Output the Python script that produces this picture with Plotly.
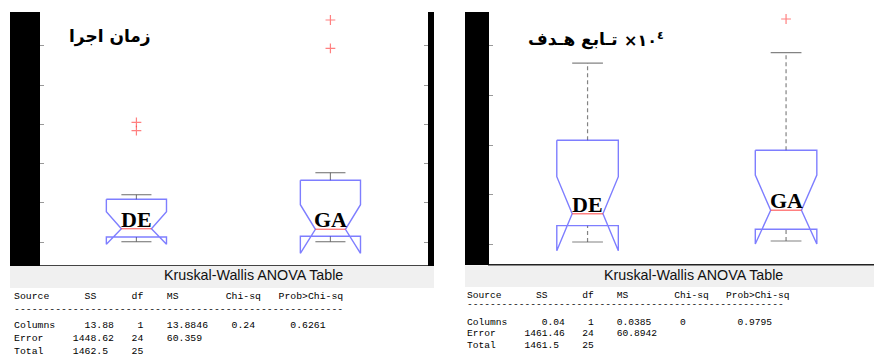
import plotly.graph_objects as go

W, H = 874, 360

# ---------------- data ----------------
groups = ["DE", "GA"]
group_pos = [1, 2]

# left panel: execution time (axis ticks unlabeled in the picture)
time_ticks = [10, 20, 30, 40, 50, 60]
time_whisker_low = [10.15, 10.15]
time_q1 = [11.35, 11.53]
time_notch_low = [9.5, 7.2]
time_median = [13.46, 13.31]
time_notch_high = [17.8, 19.57]
time_q3 = [20.94, 25.78]
time_whisker_high = [22.11, 27.71]
time_outliers = [[40.53, 38.4], [66.56, 59.36]]

# right panel: objective function x10^4
obj_ticks = [1, 2, 3, 4, 5]
obj_whisker_low = [1.046, 1.066]
obj_q1 = [1.375, 1.302]
obj_notch_low = [0.871, 1.006]
obj_median = [1.616, 1.685]
obj_notch_high = [2.362, 2.396]
obj_q3 = [3.095, 2.893]
obj_whisker_high = [4.651, 4.859]
obj_outliers = [[], [5.538]]

# Kruskal-Wallis tables
table_title = "Kruskal-Wallis ANOVA Table"
table_header = ["Source", "SS", "df", "MS", "Chi-sq", "Prob>Chi-sq"]
row_names = ["Columns", "Error", "Total"]
time_ss = ["13.88", "1448.62", "1462.5"]
time_df = ["1", "24", "25"]
time_ms = ["13.8846", "60.359"]
time_chi = ["0.24"]
time_p = ["0.6261"]
obj_ss = ["0.04", "1461.46", "1461.5"]
obj_df = ["1", "24", "25"]
obj_ms = ["0.0385", "60.8942"]
obj_chi = ["0"]
obj_p = ["0.9795"]

title_time = "زمان اجرا"
title_obj_words = "تـابع هـدف"
title_obj_scale = "×١٠<sup>٤</sup>"

# ---------------- styling ----------------
BLUE = "rgba(40,40,255,0.6)"
RED = "rgba(255,60,60,0.65)"
GRAY = "rgba(90,90,90,0.75)"
BW, NW, CW = 0.155, 0.0775, 0.0775


def px_x(p):
    return p / W


def px_y(p):
    return 1 - p / H


fig = go.Figure()


def add_panel(xa, ya, wl, q1, nl, md, nh, q3, wh, outl, dashed):
    for i, g in enumerate(groups):
        c = group_pos[i]
        # whiskers
        for a, b in ((q3[i], wh[i]), (wl[i], q1[i])):
            fig.add_trace(go.Scatter(x=[c, c], y=[a, b], mode="lines",
                                     line=dict(color=GRAY, width=1.2,
                                               dash="4px,3px" if dashed else "solid"),
                                     xaxis=xa, yaxis=ya, hoverinfo="skip"))
        for v in (wh[i], wl[i]):
            fig.add_trace(go.Scatter(x=[c - CW, c + CW], y=[v, v], mode="lines",
                                     line=dict(color=GRAY, width=1.2),
                                     xaxis=xa, yaxis=ya, hoverinfo="skip"))
        # notched box outline
        fig.add_trace(go.Scatter(
            x=[c - BW, c - BW, c - NW, c - BW, c - BW, c + BW, c + BW, c + NW, c + BW, c + BW, c - BW],
            y=[q3[i], nh[i], md[i], nl[i], q1[i], q1[i], nl[i], md[i], nh[i], q3[i], q3[i]],
            mode="lines", line=dict(color=BLUE, width=1.4),
            xaxis=xa, yaxis=ya, hoverinfo="skip"))
        # median
        fig.add_trace(go.Scatter(x=[c - NW, c + NW], y=[md[i], md[i]], mode="lines",
                                 line=dict(color=RED, width=1.4),
                                 xaxis=xa, yaxis=ya, hoverinfo="skip"))
        # outliers
        if outl[i]:
            fig.add_trace(go.Scatter(x=[c] * len(outl[i]), y=outl[i], mode="markers",
                                     marker=dict(symbol="cross-thin", size=7,
                                                 line=dict(color=RED, width=1.2)),
                                     xaxis=xa, yaxis=ya, hoverinfo="skip"))
        # group label
        fig.add_annotation(x=c, y=md[i], xref=xa, yref=ya, text=g,
                           showarrow=False, xanchor="center", yanchor="bottom",
                           yshift=-5,
                           font=dict(family="Liberation Serif", size=22,
                                     color="black", weight="bold"))


add_panel("x", "y", time_whisker_low, time_q1, time_notch_low, time_median,
          time_notch_high, time_q3, time_whisker_high, time_outliers, False)
add_panel("x2", "y2", obj_whisker_low, obj_q1, obj_notch_low, obj_median,
          obj_notch_high, obj_q3, obj_whisker_high, obj_outliers, True)

axis_common = dict(showgrid=False, zeroline=False, showticklabels=False)

fig.update_layout(
    width=W, height=H, margin=dict(l=0, r=0, t=0, b=0),
    paper_bgcolor="white", plot_bgcolor="white", showlegend=False,
    hovermode=False,
    xaxis=dict(domain=[px_x(40), px_x(428)], range=[0.503, 2.503], ticks="",
               showline=True, linecolor="#444", linewidth=1.5, **axis_common),
    yaxis=dict(domain=[px_y(265), px_y(12)], range=[4.22, 68.6],
               tickvals=time_ticks, ticks="inside", ticklen=4, tickcolor="#999",
               showline=True, linecolor="#aaa", linewidth=1, mirror="ticks",
               **axis_common),
    xaxis2=dict(domain=[px_x(489.3), 1.0], range=[0.505, 2.443], ticks="",
                anchor="y2", showline=True, linecolor="#222", linewidth=2,
                **axis_common),
    yaxis2=dict(domain=[px_y(264), px_y(12)], range=[0.603, 5.679], anchor="x2",
                tickvals=obj_ticks, ticks="inside", ticklen=4, tickcolor="#999",
                showline=True, linecolor="#aaa", linewidth=1, **axis_common),
)

shapes = []


def rect(x0, y0, x1, y1, color):
    shapes.append(dict(type="rect", xref="paper", yref="paper",
                       x0=px_x(x0), x1=px_x(x1), y0=px_y(y1), y1=px_y(y0),
                       fillcolor=color, line=dict(width=0), layer="above"))


# gray table-title bands and black frame bars
rect(10, 266, 434, 288, "#f0f0f0")
rect(465, 265.5, 874, 287, "#f0f0f0")
rect(10, 12, 40, 266, "black")
rect(428, 12, 434, 266, "black")
rect(465, 12, 489, 265, "black")
fig.update_layout(shapes=shapes)

# titles inside the plots
fig.add_annotation(x=px_x(109.5), y=px_y(37), xref="paper", yref="paper",
                   text=title_time, showarrow=False, xanchor="center", yanchor="middle",
                   font=dict(family="DejaVu Sans", size=17, color="black", weight="bold"))
fig.add_annotation(x=px_x(620), y=px_y(39), xref="paper", yref="paper",
                   text=title_obj_words, showarrow=False, xanchor="right", yanchor="middle",
                   font=dict(family="DejaVu Sans", size=17, color="black", weight="bold"))
fig.add_annotation(x=px_x(622), y=px_y(39), xref="paper", yref="paper",
                   text=title_obj_scale, showarrow=False, xanchor="left", yanchor="middle",
                   font=dict(family="DejaVu Sans", size=16, color="black", weight="bold"))

# Kruskal-Wallis tables
for cx in (253, 693):
    fig.add_annotation(x=px_x(cx), y=px_y(274.5), xref="paper", yref="paper",
                       text=table_title, showarrow=False, xanchor="center", yanchor="middle",
                       font=dict(family="Liberation Sans", size=14.3, color="#111"))

header_cols = [0, 12, 20, 26, 36, 45]
row_cols = [[0, 12, 21, 26, 37, 47], [0, 10, 20, 26], [0, 10, 20]]


def build_line(cells, cols):
    s = ""
    for t, c in zip(cells, cols):
        s = s.ljust(c) + t
    return s.replace(" ", "\u00a0")


def add_table(x0, fsize, ys, ss, df, ms, chi, p, ndash):
    rows = [
        [row_names[0], ss[0], df[0], ms[0], chi[0], p[0]],
        [row_names[1], ss[1], df[1], ms[1]],
        [row_names[2], ss[2], df[2]],
    ]
    # right-align the first SS entry with the longer Error SS entry
    cols0 = list(row_cols[0])
    cols0[1] = row_cols[1][1] + len(ss[1]) - len(ss[0])
    line_defs = [(build_line(table_header, header_cols), ys[0], None),
                 ("-" * ndash, ys[1], 7),
                 (build_line(rows[0], cols0), ys[2], None),
                 (build_line(rows[1], row_cols[1]), ys[3], None),
                 (build_line(rows[2], row_cols[2]), ys[4], None)]
    for txt, yy, hh in line_defs:
        kw = {} if hh is None else {"height": hh}
        fig.add_annotation(x=px_x(x0), y=px_y(yy), xref="paper", yref="paper",
                           text=txt, showarrow=False, xanchor="left", yanchor="middle",
                           font=dict(family="Liberation Mono", size=fsize, color="#000"),
                           **kw)


add_table(11.5, 9.8, [296.7, 309.5, 325.7, 338.3, 351], time_ss, time_df, time_ms,
          time_chi, time_p, 56)
add_table(465, 9.6, [295, 304, 322.7, 333.3, 345], obj_ss, obj_df, obj_ms,
          obj_chi, obj_p, 55)

fig.write_html("out.html")
